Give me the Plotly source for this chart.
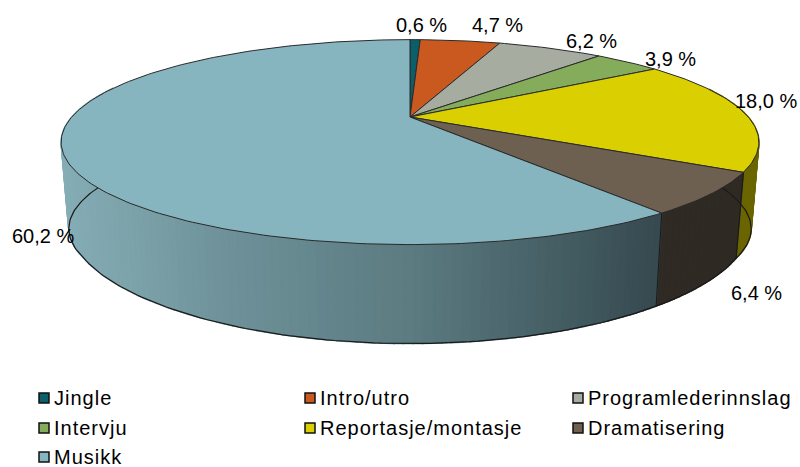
import numpy as np
import plotly.graph_objects as go

categories = ["Jingle", "Intro/utro", "Programlederinnslag", "Intervju",
              "Reportasje/montasje", "Dramatisering", "Musikk"]
shares = [0.6, 4.7, 6.2, 3.9, 18.0, 6.4, 60.2]
top_colors = ["#0b5f6b", "#c9591f", "#a6aca0", "#85ac5a", "#dacf00", "#6d6050", "#86b4bf"]
side_colors = ["#063238", "#6b2f10", "#585b55", "#46592f", "#6b6500", "#2f2a24", None]

# label centres in pixels
label_pos = [(421, 25), (497, 25), (591, 41), (670, 59), (766, 101), (756, 293), (43, 236)]
legend_pos = [(44, 398), (310, 398), (578, 398), (44, 428), (310, 428), (578, 428), (44, 457)]

# perspective of the pie
CX, CY, F_X, F_Y, D = 410, 117, 1380, 393, 4.08
depth_y = [117, 172, 213, 245]
depth_h = [87, 86, 93, 99]

def top_pt(theta):
    X, Y = np.sin(theta), -np.cos(theta)
    return CX + F_X * X / (D - Y), CY + F_Y * Y / (D - Y)

def bot_pt(theta):
    x, y = top_pt(theta)
    return CX + (x - CX) * 0.978, y + np.interp(y, depth_y, depth_h)

# Musikk side shading by pixel x
shade_x = [60, 250, 410, 550, 660]
shade_r = [134, 108, 92, 70, 54]
shade_g = [174, 142, 124, 96, 74]
shade_b = [182, 150, 130, 102, 80]

fig = go.Figure()
edges = np.cumsum([0] + shares) / sum(shares) * 2 * np.pi
sil_r, sil_l = np.radians(75.5), np.radians(284.5)

# side segments, back to front
segs = []
for i in range(len(shares)):
    a, b = edges[i], edges[i + 1]
    n = max(2, int((b - a) / np.radians(1.25)))
    th = np.linspace(a, b, n + 1)
    for t0, t1 in zip(th[:-1], th[1:]):
        if t1 < sil_r - 0.05 or t0 > sil_l + 0.05:
            continue
        segs.append((-np.cos((t0 + t1) / 2), i, t0, t1))
segs.sort(key=lambda s: s[0])
for _, i, t0, t1 in segs:
    ts = np.array([t0, t1])
    xt, yt = top_pt(ts)
    xb, yb = bot_pt(ts)
    if side_colors[i] is None:
        xm = float(np.mean(xt))
        col = "rgb(%d,%d,%d)" % (np.interp(xm, shade_x, shade_r),
                                 np.interp(xm, shade_x, shade_g),
                                 np.interp(xm, shade_x, shade_b))
    else:
        col = side_colors[i]
    fig.add_trace(go.Scatter(
        x=[xt[0], xt[1], xb[1], xb[0], xt[0]], y=[yt[0], yt[1], yb[1], yb[0], yt[0]],
        mode="lines", fill="toself", fillcolor=col, line=dict(color=col, width=1.5),
        hoverinfo="skip", showlegend=False))

# outline of the side
th = np.linspace(sil_r, sil_l, 200)
xo, yo = bot_pt(th)
xs, ys = top_pt(np.array([sil_r, sil_l]))
fig.add_trace(go.Scatter(x=[xs[0], *xo, xs[1]], y=[ys[0], *yo, ys[1]], mode="lines",
                         line=dict(color="#1a1a1a", width=1.2), hoverinfo="skip", showlegend=False))
for e in edges[1:-1]:
    if sil_r < e < sil_l:
        xt, yt = top_pt(e)
        xb, yb = bot_pt(e)
        fig.add_trace(go.Scatter(x=[xt, xb], y=[yt, yb], mode="lines",
                                 line=dict(color="#1a1a1a", width=1), hoverinfo="skip", showlegend=False))

# top faces
for i, name in enumerate(categories):
    a, b = edges[i], edges[i + 1]
    th = np.linspace(a, b, max(3, int((b - a) / np.radians(1)) + 1))
    x, y = top_pt(th)
    fig.add_trace(go.Scatter(
        x=[CX, *x, CX], y=[CY, *y, CY], mode="lines", fill="toself",
        fillcolor=top_colors[i], line=dict(color="#2a2a2a", width=1),
        name=name, hoverinfo="name", showlegend=False))

annotations = []
for v, (px, py) in zip(shares, label_pos):
    annotations.append(dict(x=px, y=py, xref="x", yref="y", showarrow=False,
                            text=f"{v:.1f}".replace(".", ",") + " %",
                            font=dict(family="Liberation Sans", size=20, color="#000"),
                            xanchor="center", yanchor="middle"))

# legend
for name, col, (px, py) in zip(categories, top_colors, legend_pos):
    fig.add_trace(go.Scatter(x=[px], y=[py], mode="markers",
                             marker=dict(symbol="square", size=10, color=col,
                                         line=dict(color="#111", width=1.5)),
                             hoverinfo="skip", showlegend=False))
    annotations.append(dict(x=px + 8, y=py, xref="x", yref="y", showarrow=False, text=name,
                            align="left",
                            font=dict(family="Liberation Sans", size=20, color="#000"),
                            xanchor="left", yanchor="middle"))

fig.update_layout(
    width=800, height=467, margin=dict(l=0, r=0, t=0, b=0),
    paper_bgcolor="white", plot_bgcolor="white", annotations=annotations,
    xaxis=dict(range=[0, 800], visible=False, fixedrange=True),
    yaxis=dict(range=[467, 0], visible=False, fixedrange=True),
)
post = """
document.body.style.margin = '0';
document.querySelectorAll('.annotation-text').forEach(function (t) {
  if (t.textContent.indexOf('%') < 0) { t.style.letterSpacing = '1px'; }
});
"""
fig.write_html("out.html", config={"displayModeBar": False}, post_script=post)
